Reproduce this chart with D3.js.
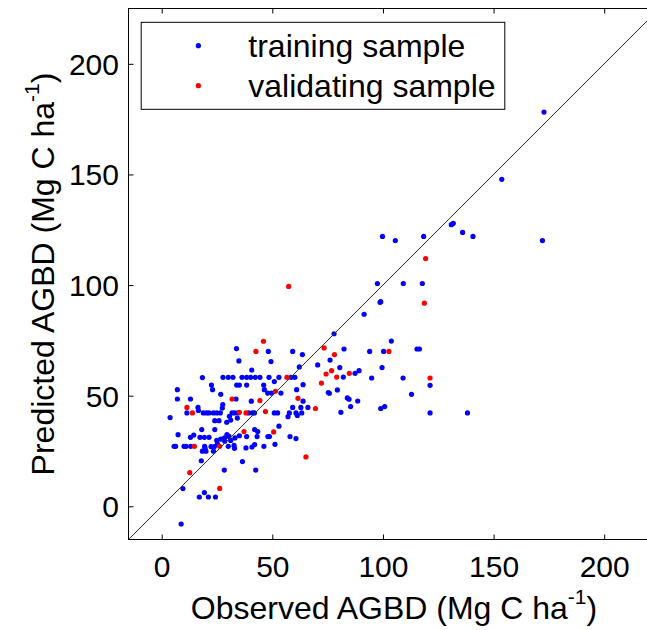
<!DOCTYPE html>
<html><head><meta charset="utf-8">
<script src="https://cdn.jsdelivr.net/npm/d3@7"></script>
<style>body{margin:0;background:#fff} svg{display:block}</style>
</head><body>
<svg id="chart" width="647" height="630"></svg>
<script>
const trainX = [33.8,48.2,59.2,63.6,34.9,49.4,62.2,70.5,40.7,18.4,
 27.7,30.1,32.2,36.3,38.4,40.2,42.3,44.4,48.5,53,58.5,60.2,
 50.9,22.5,33.9,35.1,38.4,46.1,23,7.1,63.9,61,46.4,47.9,49.6,53.9,26.7,7.1,13,33.6,40.5,27.6,27.4,63.9,66.1,59.2,62.9,75.3,16.4,16.6,
 11.4,18.8,20.2,21.4,23.4,24.9,26.5,31.8,33,34.5,39.3,41,41.9,52.4,57.7,60.7,63.3,
 50.9,30.6,34.2,61.3,57.1,3.8,25.9,24,29.4,31.2,53,18.1,24,42,43.4,48.7,7.4,13,14.5,17.3,19.3,21.4,24.9,26.7,28.4,29.5,30.4,28.5,31.2,33.1,35.1,38.4,43.1,48,58,60.7,
 5.6,6.3,10.1,11,13.1,19.4,19.6,22.3,23.8,25.2,30.1,32.9,32.7,38.1,40.8,42,46.2,51.2,18.4,20,23.4,17.9,36.5,28.3,42.5,9.6,17,19.3,21.1,24.3,8.8,
 77.9,82.4,94,100.3,103.8,115.4,116.5,76.1,80.5,82.1,87.4,89.2,94.9,99.6,109.1,121.3,75.8,79.4,83.9,84.7,88.6,112.9,85.4,99,100.8,81,121.3,138.2,
 172.8,153.7,130.9,131.8,136,140.7,172.1,99.8,105.6,118.4,97.5,109.2,117.8,98.7,99,91.5];
const trainY = [71.3,70,70,68.6,65.7,65.4,63,63.9,61.6,58.2,
 58.3,58.3,58.3,58.3,58.3,58.3,58.3,58.3,58.3,58.3,58.3,58.3,
 56.4,54.8,54.8,54.8,54.8,54.8,52.7,52.7,55,52.7,52.7,51.2,51.2,51.2,50.6,48.5,48.5,48.5,47.5,46,44.4,47.5,44.7,44.7,44.7,51.4,44.7,43.3,
 42.2,42.2,42.2,42.2,42.2,42.2,42.2,42.2,42.2,42.2,42.2,42.2,42.2,42.2,42.2,42.2,42.2,
 42.2,40.7,39.9,41.1,40.5,40.1,38.7,38.7,38,39,36.2,34.7,34.7,34.7,33.8,31.5,32.4,31.2,32.2,31.2,31.2,31.2,29.8,30.4,31,32.4,31.6,29.4,29.8,30.9,31.9,31.5,31.5,31.5,31.5,30.6,
 27.1,27.1,27.1,27.1,27.1,27.1,26.2,27,27,28.2,27.1,26.2,27.5,26.4,26.8,27.9,27.1,28,24.9,24.9,24.9,20.6,20.2,16.4,16.4,8,4.2,6.2,4.2,4.2,-8,
 78,71.1,70,70,74.7,71.1,71.1,66.1,62.7,58.4,60.1,61.3,58,62.7,58,54.7,51.1,52.6,49,48.4,47.6,50.6,45.1,44.2,45.1,42.5,42.2,42.2,
 178.2,147.8,127.3,127.9,123.8,122,120.1,122,120.1,122,100.7,100.7,100.7,92.2,92.5,86.8];
const validX = [46,42.6,73.4,74.3,72.2,76.8,56.6,51.4,31.8,44.4,61.6,69.5,11.4,13.9,35.1,38.1,46.9,37.2,50.6,14.8,26.2,12.7,26.2,78.1,79.1,84.8,102.7,121.3,65.2,119.3,118.7,57.4];
const validY = [74.6,70,71.6,59.8,55.7,61.3,58.3,52,48.5,47.8,48.8,44.2,44.7,42.2,42.5,42.2,42.8,33.8,33.6,27.1,27.1,15.2,8.1,68.6,58.4,60.1,70,58,22.3,112,91.8,99.4];
const xTicks = [0,50,100,150,200];
const yTicks = [0,50,100,150,200];
const axisDomain = [-15,225];
const xLabelText = "Observed AGBD (Mg C ha";
const yLabelText = "Predicted AGBD (Mg C ha";
const supText = "-1";
const legendLabels = ["training sample","validating sample"];
const seriesColors = ["#0000ff","#ff0000"];

const FONT = "'Liberation Sans', Arial, Helvetica, sans-serif";
const svg = d3.select("#chart");
const L = 128.5, T = 8.5, S = 531;
const x = d3.scaleLinear().domain(axisDomain).range([L, L + S]);
const y = d3.scaleLinear().domain(axisDomain).range([T + S, T]);

svg.append("defs").append("clipPath").attr("id","clip")
  .append("rect").attr("x",L).attr("y",T).attr("width",S).attr("height",S);

const plot = svg.append("g").attr("clip-path","url(#clip)");
const train = trainX.map((v,i)=>({x:v,y:trainY[i]}));
const valid = validX.map((v,i)=>({x:v,y:validY[i]}));
plot.selectAll("circle.tr").data(train).join("circle").attr("class","tr")
  .attr("cx",d=>x(d.x)).attr("cy",d=>y(d.y)).attr("r",2.6).attr("fill",seriesColors[0]);
plot.selectAll("circle.va").data(valid).join("circle").attr("class","va")
  .attr("cx",d=>x(d.x)).attr("cy",d=>y(d.y)).attr("r",2.6).attr("fill",seriesColors[1]);
plot.append("line").attr("x1",x(axisDomain[0])).attr("y1",y(axisDomain[0]))
  .attr("x2",x(axisDomain[1])).attr("y2",y(axisDomain[1]))
  .attr("stroke","#3a3a3a").attr("stroke-width",1);

function styleAxis(g){
  g.select(".domain").remove();
  g.selectAll(".tick line").attr("stroke","#000").attr("stroke-width",1);
  g.selectAll("text").attr("fill","#000").style("font-family",FONT).style("font-size","30px");
}
const gx = svg.append("g").attr("transform",`translate(0,${T+S})`)
  .call(d3.axisBottom(x).tickValues(xTicks).tickSize(-5).tickSizeOuter(0).tickFormat(d3.format("d")));
styleAxis(gx);
gx.selectAll("text").attr("y",37.5).attr("dy",null);
const gt = svg.append("g").attr("transform",`translate(0,${T})`)
  .call(d3.axisTop(x).tickValues(xTicks).tickSize(-5).tickSizeOuter(0).tickFormat(""));
styleAxis(gt);
const gy = svg.append("g").attr("transform",`translate(${L},0)`)
  .call(d3.axisLeft(y).tickValues(yTicks).tickSize(-5).tickSizeOuter(0).tickFormat(d3.format("d")));
styleAxis(gy);
gy.selectAll("text").attr("x",-9.5).attr("dy","0.35em");
const gr = svg.append("g").attr("transform",`translate(${L+S},0)`)
  .call(d3.axisRight(y).tickValues(yTicks).tickSize(-5).tickSizeOuter(0).tickFormat(""));
styleAxis(gr);

svg.append("rect").attr("x",L).attr("y",T).attr("width",S).attr("height",S)
  .attr("fill","none").attr("stroke","#000").attr("stroke-width",1);

// x label
const xl = svg.append("text").attr("x",(L+L+S)/2).attr("y",619).attr("text-anchor","middle")
  .style("font-family",FONT).style("font-size","32px").attr("fill","#000");
xl.append("tspan").text(xLabelText);
xl.append("tspan").attr("dy",-15).style("font-size","21px").text(supText);
xl.append("tspan").attr("dy",15).text(")");
// y label
const yl = svg.append("text").attr("transform",`translate(54,${T+S/2}) rotate(-90)`).attr("text-anchor","middle")
  .style("font-family",FONT).style("font-size","32px").attr("fill","#000");
yl.append("tspan").text(yLabelText);
yl.append("tspan").attr("dy",-15).style("font-size","21px").text(supText);
yl.append("tspan").attr("dy",15).text(")");

// legend
const lg = svg.append("g");
lg.append("rect").attr("x",141.2).attr("y",22.3).attr("width",363.6).attr("height",87)
  .attr("fill","#fff").attr("stroke","#000").attr("stroke-width",1);
legendLabels.forEach((lab,i)=>{
  lg.append("circle").attr("cx",198.4).attr("cy",45.7+40*i).attr("r",2.6).attr("fill",seriesColors[i]);
  lg.append("text").attr("x",248.3).attr("y",56.7+40*i).text(lab)
    .style("font-family",FONT).style("font-size","32px").attr("fill","#000");
});
</script>
</body></html>
